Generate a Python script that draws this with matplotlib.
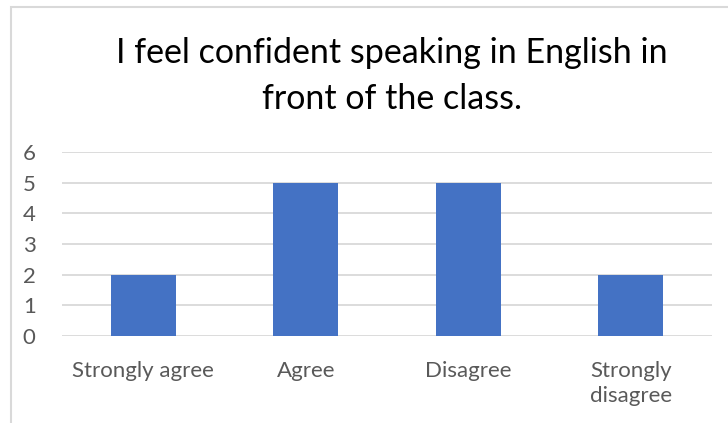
import matplotlib.pyplot as plt
from matplotlib.patches import Rectangle

categories = ["Strongly agree", "Agree", "Disagree", "Strongly\ndisagree"]
values = [2, 5, 5, 2]
yticks = [0, 1, 2, 3, 4, 5, 6]
title = "I feel confident speaking in English in\nfront of the class."

plt.rcParams['font.family'] = ['Lato', 'DejaVu Sans']

fig = plt.figure(figsize=(7.28, 4.23), dpi=100)

# chart border (light gray), partly cropped like the screenshot
fig.patches.append(Rectangle((11 / 728, -0.1), 1.0, 1.1 - 7 / 423,
                             transform=fig.transFigure, fill=False,
                             edgecolor="#D9D9D9", linewidth=1.5))

ax = fig.add_axes([62 / 728, 87 / 423, 650 / 728, 184 / 423])
x = range(len(categories))
ax.bar(x, values, width=0.4, color="#4472C4", zorder=3)

ax.set_xlim(-0.5, len(categories) - 0.5)
ax.set_ylim(0, 6)
ax.set_yticks(yticks)
ax.set_xticks(list(x))
ax.set_xticklabels(categories, linespacing=1.3)
ax.tick_params(axis="both", length=0, labelsize=16, colors="#595959")
ax.tick_params(axis="x", pad=18)
ax.tick_params(axis="y", pad=19)
ax.grid(axis="y", color="#D9D9D9", linewidth=1.3, zorder=0)
for s in ax.spines.values():
    s.set_visible(False)

fig.text(392 / 728, 1 - 76 / 423, title, ha="center", va="center",
         fontsize=24.5, color="#000000", linespacing=1.55)

fig.savefig("out.png", dpi=100)
